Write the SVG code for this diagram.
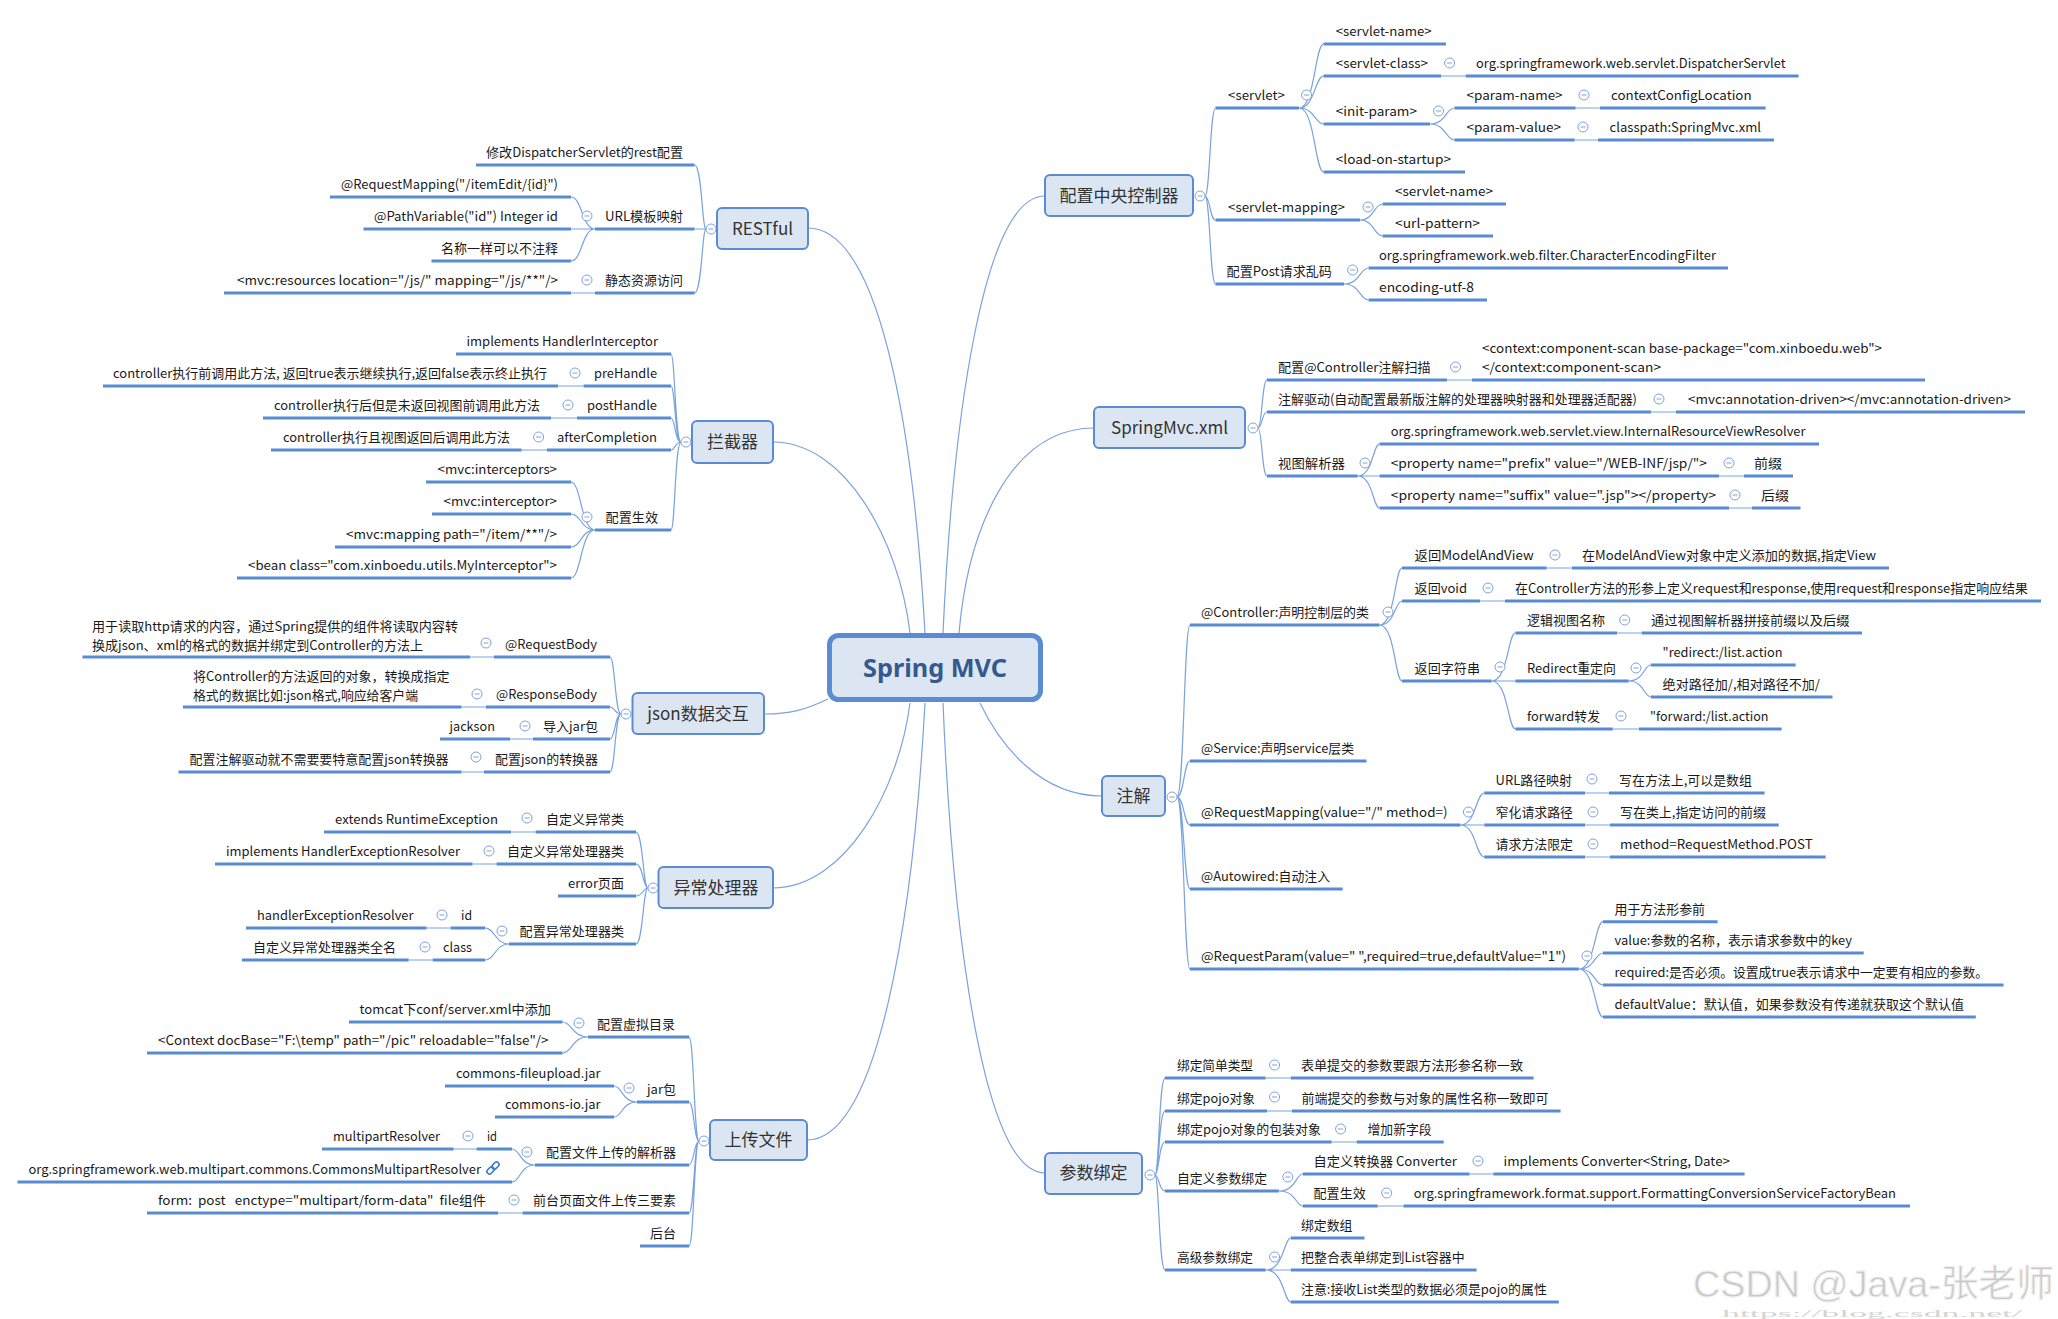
<svg xmlns="http://www.w3.org/2000/svg" xmlns:xlink="http://www.w3.org/1999/xlink" width="2058" height="1319" viewBox="0 0 2058 1319">
<style>
.u{fill:none;stroke:#588bd2;stroke-width:3}
.c{fill:none;stroke:#79a3dd;stroke-width:1.2}
.t{font-family:"Noto Sans CJK SC","Noto Sans",sans-serif;font-size:13px;fill:#1a1a1a}
.b{fill:#dce6f2;stroke:#5b8bd2;stroke-width:2}
.h{font-family:"Noto Sans CJK SC","Noto Sans",sans-serif;font-size:17px;fill:#333;text-anchor:middle}
</style>
<defs>
<g id="m"><circle r="5" fill="#fff" stroke="#7ea3d8" stroke-width="1"/><path d="M-2.5 0H2.5" stroke="#7ea3d8" stroke-width="1"/></g>
</defs>
<rect width="2058" height="1319" fill="#fff"/>

<g id="connectors">
<path class="c" d="M925 633C913 420 878 228 808 228"/>
<path class="c" d="M910 633C899 540 845 442 773 442"/>
<path class="c" d="M828 699C805 710 790 714 764 714"/>
<path class="c" d="M910 703C899 790 845 888 773 888"/>
<path class="c" d="M925 703C913 920 878 1140 807 1140"/>
<path class="c" d="M943 633C953 415 984 196 1045 196"/>
<path class="c" d="M959 633C968 530 1010 428 1094 428"/>
<path class="c" d="M980 703C1000 745 1040 796 1102 796"/>
<path class="c" d="M943 703C953 940 984 1173 1045 1173"/>

<path class="c" d="M706 229C702 229 702 165 694.5 165M706 229H694.5M706 229C702 229 702 293 694.5 293"/>
<path class="c" d="M595 229C582 229 582 197 571 197M595 229H571M595 229C582 229 582 261 571 261M595 293H571"/>

<path class="c" d="M681 442C675 442 675 354 671 354M681 442C675 442 675 386 671 386M681 442C675 442 675 418 671 418M681 442C675 442 675 450 671 450M681 442C675 442 675 530 671 530"/>
<path class="c" d="M583.6 386H558M577 418H551M547 450H521.6"/>
<path class="c" d="M595 530C581 530 581 482 571 482M595 530C581 530 581 514 571 514M595 530C581 530 581 547 571 547M595 530C581 530 581 578 571 578"/>

<path class="c" d="M621 714C615 714 615 657 610 657M621 714C615 714 615 707 610 707M621 714C615 714 615 739 610 739M621 714C615 714 615 772 610 772"/>
<path class="c" d="M494 657H470M486 707H461.5M533 739H510M484 772H461.5"/>

<path class="c" d="M648 888C643 888 643 832 636 832M648 888C643 888 643 864 636 864M648 888C643 888 643 896 636 896M648 888C643 888 643 944 636 944"/>
<path class="c" d="M535.6 832H511M496.6 864H472.5"/>
<path class="c" d="M509 944C495 944 495 928 485 928M509 944C495 944 495 960 485 960M450.7 928H426.5M432.7 960H408.6"/>

<path class="c" d="M699 1141C694 1141 694 1037 689 1037M699 1141C694 1141 694 1102 689 1102M699 1141C694 1141 694 1165 689 1165M699 1141C694 1141 694 1213 689 1213M699 1141C694 1141 694 1246 689 1246"/>
<path class="c" d="M588 1037C572 1037 572 1022 562.4 1022M588 1037C572 1037 572 1053 562.4 1053"/>
<path class="c" d="M637 1102C622 1102 622 1086 614 1086M637 1102C622 1102 622 1117 614 1117"/>
<path class="c" d="M535 1165C520 1165 520 1149 512 1149M535 1165C520 1165 520 1182 512 1182M476.6 1149H453.6M522.5 1213H498"/>

<path class="c" d="M1205 196C1210 196 1210 108 1215.5 108M1205 196C1210 196 1210 220 1215.5 220M1205 196C1210 196 1210 284 1215.5 284"/>
<path class="c" d="M1299 108C1315 108 1315 44 1323.6 44M1299 108C1315 108 1315 76 1323.6 76M1299 108C1315 108 1315 124 1323.6 124M1299 108C1315 108 1315 172 1323.6 172"/>
<path class="c" d="M1441 76H1465.6M1430 124C1446 124 1446 108 1454.5 108M1430 124C1446 124 1446 140 1454.5 140M1575.6 108H1600M1574.7 140H1598"/>
<path class="c" d="M1360 220C1374 220 1374 204 1382.7 204M1360 220C1374 220 1374 236 1382.7 236"/>
<path class="c" d="M1344 284C1360 284 1360 268 1368.6 268M1344 284C1360 284 1360 300 1368.6 300"/>

<path class="c" d="M1258 428C1262 428 1262 380 1267 380M1258 428C1262 428 1262 412 1267 412M1258 428C1262 428 1262 476 1267 476"/>
<path class="c" d="M1447 380H1472M1651 412H1676"/>
<path class="c" d="M1357.6 476C1373 476 1373 444 1379.5 444M1357.6 476H1379.5M1357.6 476C1373 476 1373 508 1379.5 508M1719 476H1744M1729 508H1752"/>

<path class="c" d="M1177 797C1184 797 1184 625 1190 625M1177 797C1184 797 1184 761 1190 761M1177 797C1184 797 1184 825 1190 825M1177 797C1184 797 1184 889 1190 889M1177 797C1184 797 1184 969 1190 969"/>
<path class="c" d="M1379.5 625C1395 625 1395 568 1402 568M1379.5 625C1395 625 1395 601 1402 601M1379.5 625C1395 625 1395 681 1402 681"/>
<path class="c" d="M1546.6 568H1572M1480 601H1505"/>
<path class="c" d="M1491.6 681C1508 681 1508 633 1515.4 633M1491.6 681H1515.4M1491.6 681C1508 681 1508 729 1515.4 729M1617 633H1641.7M1612.8 729H1639"/>
<path class="c" d="M1628.7 681C1644 681 1644 665 1651 665M1628.7 681C1644 681 1644 697 1651 697"/>
<path class="c" d="M1460.5 825C1476 825 1476 793 1484.3 793M1460.5 825H1484.3M1460.5 825C1476 825 1476 857 1484.3 857M1585 793H1609M1585 825H1610M1585 857H1610"/>
<path class="c" d="M1578.8 969C1595 969 1595 921.7 1603 921.7M1578.8 969C1595 969 1595 953 1603 953M1578.8 969C1595 969 1595 985 1603 985M1578.8 969C1595 969 1595 1017 1603 1017"/>

<path class="c" d="M1155 1175C1159 1175 1159 1078 1165 1078M1155 1175C1159 1175 1159 1111 1165 1111M1155 1175C1159 1175 1159 1142 1165 1142M1155 1175C1159 1175 1159 1191 1165 1191M1155 1175C1159 1175 1159 1270 1165 1270"/>
<path class="c" d="M1265.6 1078H1290.8M1267 1111H1292M1331.6 1142H1356.7"/>
<path class="c" d="M1278.8 1191C1296 1191 1296 1174 1302.8 1174M1278.8 1191C1296 1191 1296 1206 1302.8 1206M1469.5 1174H1493.4M1377.7 1206H1403.5"/>
<path class="c" d="M1265.6 1270C1284 1270 1284 1238 1290.8 1238M1265.6 1270H1290.8M1265.6 1270C1284 1270 1284 1302 1290.8 1302"/>
</g>

<g id="n-center">
<rect x="829.5" y="635.5" width="211" height="64" rx="9" fill="#dce6f2" stroke="#5b8bd2" stroke-width="5"/>
<text x="863" y="677" textLength="144" lengthAdjust="spacingAndGlyphs" style="font-family:'Noto Sans','Noto Sans CJK SC',sans-serif;font-size:25px;font-weight:bold;fill:#35598f">Spring MVC</text>
</g>

<!-- RESTful -->
<g id="n-restful"><rect class="b" x="717" y="208" width="91" height="41" rx="5"/><text class="h" x="762.5" y="234.5">RESTful</text><use href="#m" x="711" y="229"/></g>
<g id="n-r1"><path class="u" d="M476 165H694.5"/><text class="t" x="486" y="157" textLength="197" lengthAdjust="spacingAndGlyphs">修改DispatcherServlet的rest配置</text></g>
<g id="n-r2"><path class="u" d="M595 229H694.5"/><text class="t" x="605" y="221" textLength="78" lengthAdjust="spacingAndGlyphs">URL模板映射</text><use href="#m" x="587" y="216"/></g>
<g id="n-r2a"><path class="u" d="M330 197H571"/><text class="t" x="341" y="189" textLength="217" lengthAdjust="spacingAndGlyphs">@RequestMapping("/itemEdit/{id}")</text></g>
<g id="n-r2b"><path class="u" d="M363.5 229H571"/><text class="t" x="374" y="221" textLength="184" lengthAdjust="spacingAndGlyphs">@PathVariable("id") Integer id</text></g>
<g id="n-r2c"><path class="u" d="M431.5 261H571"/><text class="t" x="441" y="253" textLength="117" lengthAdjust="spacingAndGlyphs">名称一样可以不注释</text></g>
<g id="n-r3"><path class="u" d="M595 293H694.5"/><text class="t" x="605" y="285" textLength="78" lengthAdjust="spacingAndGlyphs">静态资源访问</text><use href="#m" x="587" y="280"/></g>
<g id="n-r3a"><path class="u" d="M224 293H571"/><text class="t" x="237" y="285" textLength="321" lengthAdjust="spacingAndGlyphs">&lt;mvc:resources location="/js/" mapping="/js/**"/&gt;</text></g>

<!-- 拦截器 -->
<g id="n-interceptor"><rect class="b" x="692" y="421" width="81" height="42" rx="5"/><text class="h" x="732.5" y="448">拦截器</text><use href="#m" x="686" y="442"/></g>
<g id="n-i1"><path class="u" d="M456 354H671"/><text class="t" x="466.5" y="346" textLength="191.5" lengthAdjust="spacingAndGlyphs">implements HandlerInterceptor</text></g>
<g id="n-i2"><path class="u" d="M583.6 386H671"/><text class="t" x="594" y="378" textLength="63" lengthAdjust="spacingAndGlyphs">preHandle</text><use href="#m" x="575" y="373"/></g>
<g id="n-i2a"><path class="u" d="M103 386H558"/><text class="t" x="113" y="378" textLength="434" lengthAdjust="spacingAndGlyphs">controller执行前调用此方法, 返回true表示继续执行,返回false表示终止执行</text></g>
<g id="n-i3"><path class="u" d="M577 418H671"/><text class="t" x="587" y="410" textLength="70" lengthAdjust="spacingAndGlyphs">postHandle</text><use href="#m" x="568" y="405"/></g>
<g id="n-i3a"><path class="u" d="M263 418H551"/><text class="t" x="274" y="410" textLength="266" lengthAdjust="spacingAndGlyphs">controller执行后但是未返回视图前调用此方法</text></g>
<g id="n-i4"><path class="u" d="M547 450H671"/><text class="t" x="557" y="442" textLength="100" lengthAdjust="spacingAndGlyphs">afterCompletion</text><use href="#m" x="538.6" y="437"/></g>
<g id="n-i4a"><path class="u" d="M271 450H521.6"/><text class="t" x="283" y="442" textLength="227" lengthAdjust="spacingAndGlyphs">controller执行且视图返回后调用此方法</text></g>
<g id="n-i5"><path class="u" d="M595 530H671"/><text class="t" x="605.6" y="522" textLength="52.4" lengthAdjust="spacingAndGlyphs">配置生效</text><use href="#m" x="587" y="517"/></g>
<g id="n-i5a"><path class="u" d="M426 482H571"/><text class="t" x="437.6" y="474" textLength="119.4" lengthAdjust="spacingAndGlyphs">&lt;mvc:interceptors&gt;</text></g>
<g id="n-i5b"><path class="u" d="M432 514H571"/><text class="t" x="443.5" y="506" textLength="113.5" lengthAdjust="spacingAndGlyphs">&lt;mvc:interceptor&gt;</text></g>
<g id="n-i5c"><path class="u" d="M335 547H571"/><text class="t" x="346" y="539" textLength="211" lengthAdjust="spacingAndGlyphs">&lt;mvc:mapping path="/item/**"/&gt;</text></g>
<g id="n-i5d"><path class="u" d="M237 578H571"/><text class="t" x="248" y="570" textLength="309" lengthAdjust="spacingAndGlyphs">&lt;bean class="com.xinboedu.utils.MyInterceptor"&gt;</text></g>

<!-- json -->
<g id="n-json"><rect class="b" x="632.5" y="693" width="131.5" height="41" rx="5"/><text class="h" x="698" y="720">json数据交互</text><use href="#m" x="626" y="714"/></g>
<g id="n-j1"><path class="u" d="M494 657H610"/><text class="t" x="505" y="649" textLength="92" lengthAdjust="spacingAndGlyphs">@RequestBody</text><use href="#m" x="486" y="643"/></g>
<g id="n-j1a"><path class="u" d="M82.5 657H470"/><text class="t" x="92" y="630.5" textLength="366" lengthAdjust="spacingAndGlyphs">用于读取http请求的内容，通过Spring提供的组件将读取内容转</text><text class="t" x="92" y="649.5" textLength="331" lengthAdjust="spacingAndGlyphs">换成json、xml的格式的数据并绑定到Controller的方法上</text></g>
<g id="n-j2"><path class="u" d="M486 707H610"/><text class="t" x="496" y="699" textLength="101" lengthAdjust="spacingAndGlyphs">@ResponseBody</text><use href="#m" x="477" y="694"/></g>
<g id="n-j2a"><path class="u" d="M183 707H461.5"/><text class="t" x="193" y="681" textLength="256.5" lengthAdjust="spacingAndGlyphs">将Controller的方法返回的对象，转换成指定</text><text class="t" x="193" y="699.5" textLength="225" lengthAdjust="spacingAndGlyphs">格式的数据比如:json格式,响应给客户端</text></g>
<g id="n-j3"><path class="u" d="M533 739H610"/><text class="t" x="543" y="731" textLength="55" lengthAdjust="spacingAndGlyphs">导入jar包</text><use href="#m" x="525" y="726"/></g>
<g id="n-j3a"><path class="u" d="M440 739H510"/><text class="t" x="449.5" y="731" textLength="45.5" lengthAdjust="spacingAndGlyphs">jackson</text></g>
<g id="n-j4"><path class="u" d="M484 772H610"/><text class="t" x="495" y="764" textLength="103" lengthAdjust="spacingAndGlyphs">配置json的转换器</text><use href="#m" x="476" y="757"/></g>
<g id="n-j4a"><path class="u" d="M178.5 772H461.5"/><text class="t" x="189.6" y="764" textLength="259" lengthAdjust="spacingAndGlyphs">配置注解驱动就不需要要特意配置json转换器</text></g>

<!-- 异常处理器 -->
<g id="n-exception"><rect class="b" x="658.5" y="867" width="114.5" height="41" rx="5"/><text class="h" x="716" y="894">异常处理器</text><use href="#m" x="653" y="888"/></g>
<g id="n-e1"><path class="u" d="M535.6 832H636"/><text class="t" x="546" y="824" textLength="78" lengthAdjust="spacingAndGlyphs">自定义异常类</text><use href="#m" x="527" y="818"/></g>
<g id="n-e1a"><path class="u" d="M324 832H511"/><text class="t" x="335" y="824" textLength="163" lengthAdjust="spacingAndGlyphs">extends RuntimeException</text></g>
<g id="n-e2"><path class="u" d="M496.6 864H636"/><text class="t" x="507" y="856" textLength="117" lengthAdjust="spacingAndGlyphs">自定义异常处理器类</text><use href="#m" x="489" y="851"/></g>
<g id="n-e2a"><path class="u" d="M215 864H472.5"/><text class="t" x="226" y="856" textLength="234" lengthAdjust="spacingAndGlyphs">implements HandlerExceptionResolver</text></g>
<g id="n-e3"><path class="u" d="M558 896H636"/><text class="t" x="568" y="888" textLength="56" lengthAdjust="spacingAndGlyphs">error页面</text></g>
<g id="n-e4"><path class="u" d="M509 944H636"/><text class="t" x="519.6" y="936" textLength="104.4" lengthAdjust="spacingAndGlyphs">配置异常处理器类</text><use href="#m" x="502" y="931"/></g>
<g id="n-e4a"><path class="u" d="M450.7 928H485"/><text class="t" x="461" y="920" textLength="11" lengthAdjust="spacingAndGlyphs">id</text><use href="#m" x="442" y="915"/></g>
<g id="n-e4a1"><path class="u" d="M246 928H426.5"/><text class="t" x="257" y="920" textLength="156.5" lengthAdjust="spacingAndGlyphs">handlerExceptionResolver</text></g>
<g id="n-e4b"><path class="u" d="M432.7 960H485"/><text class="t" x="443" y="952" textLength="29" lengthAdjust="spacingAndGlyphs">class</text><use href="#m" x="425" y="947"/></g>
<g id="n-e4b1"><path class="u" d="M242 960H408.6"/><text class="t" x="253" y="952" textLength="143" lengthAdjust="spacingAndGlyphs">自定义异常处理器类全名</text></g>

<!-- 上传文件 -->
<g id="n-upload"><rect class="b" x="710" y="1120" width="97" height="40" rx="5"/><text class="h" x="758.5" y="1146">上传文件</text><use href="#m" x="704" y="1141"/></g>
<g id="n-u1"><path class="u" d="M588 1037H689"/><text class="t" x="597" y="1029" textLength="78" lengthAdjust="spacingAndGlyphs">配置虚拟目录</text><use href="#m" x="579" y="1023"/></g>
<g id="n-u1a"><path class="u" d="M349 1022H562.4"/><text class="t" x="359.5" y="1014" textLength="191.5" lengthAdjust="spacingAndGlyphs">tomcat下conf/server.xml中添加</text></g>
<g id="n-u1b"><path class="u" d="M147 1053H562.4"/><text class="t" x="158" y="1045" textLength="390.6" lengthAdjust="spacingAndGlyphs">&lt;Context docBase="F:\temp" path="/pic" reloadable="false"/&gt;</text></g>
<g id="n-u2"><path class="u" d="M637 1102H689"/><text class="t" x="647" y="1094" textLength="29" lengthAdjust="spacingAndGlyphs">jar包</text><use href="#m" x="629" y="1088"/></g>
<g id="n-u2a"><path class="u" d="M445 1086H614"/><text class="t" x="456" y="1078" textLength="144.5" lengthAdjust="spacingAndGlyphs">commons-fileupload.jar</text></g>
<g id="n-u2b"><path class="u" d="M495 1117H614"/><text class="t" x="505" y="1109" textLength="95.5" lengthAdjust="spacingAndGlyphs">commons-io.jar</text></g>
<g id="n-u3"><path class="u" d="M535 1165H689"/><text class="t" x="546" y="1157" textLength="130" lengthAdjust="spacingAndGlyphs">配置文件上传的解析器</text><use href="#m" x="527" y="1152"/></g>
<g id="n-u3a"><path class="u" d="M476.6 1149H512"/><text class="t" x="487" y="1141" textLength="10" lengthAdjust="spacingAndGlyphs">id</text><use href="#m" x="468" y="1136"/></g>
<g id="n-u3a1"><path class="u" d="M322 1149H453.6"/><text class="t" x="333" y="1141" textLength="107" lengthAdjust="spacingAndGlyphs">multipartResolver</text></g>
<g id="n-u3b"><path class="u" d="M17.4 1182H512"/><text class="t" x="28.5" y="1174" textLength="452.5" lengthAdjust="spacingAndGlyphs">org.springframework.web.multipart.commons.CommonsMultipartResolver</text>
<g transform="translate(493 1168) rotate(-45)" fill="none" stroke="#3d7bd6" stroke-width="1.6"><rect x="-7.5" y="-2.5" width="8" height="5" rx="2.5"/><rect x="-0.5" y="-2.5" width="8" height="5" rx="2.5"/></g></g>
<g id="n-u4"><path class="u" d="M522.5 1213H689"/><text class="t" x="533" y="1205" textLength="143" lengthAdjust="spacingAndGlyphs">前台页面文件上传三要素</text><use href="#m" x="514" y="1200"/></g>
<g id="n-u4a"><path class="u" d="M147 1213H498"/><text class="t" x="158" y="1205" textLength="328" lengthAdjust="spacingAndGlyphs" xml:space="preserve">form:  post   enctype="multipart/form-data"  file组件</text></g>
<g id="n-u5"><path class="u" d="M640 1246H689"/><text class="t" x="650" y="1238" textLength="26" lengthAdjust="spacingAndGlyphs">后台</text></g>

<!-- 配置中央控制器 -->
<g id="n-dispatcher"><rect class="b" x="1045" y="175" width="148" height="41" rx="5"/><text class="h" x="1119" y="202">配置中央控制器</text><use href="#m" x="1200" y="196"/></g>
<g id="n-c1"><path class="u" d="M1215.5 108H1299"/><text class="t" x="1228" y="100" textLength="57" lengthAdjust="spacingAndGlyphs">&lt;servlet&gt;</text><use href="#m" x="1306.6" y="95"/></g>
<g id="n-c1a"><path class="u" d="M1323.6 44H1446"/><text class="t" x="1335.7" y="36" textLength="96" lengthAdjust="spacingAndGlyphs">&lt;servlet-name&gt;</text></g>
<g id="n-c1b"><path class="u" d="M1323.6 76H1441"/><text class="t" x="1335.7" y="68" textLength="92.3" lengthAdjust="spacingAndGlyphs">&lt;servlet-class&gt;</text><use href="#m" x="1449.6" y="63"/></g>
<g id="n-c1b1"><path class="u" d="M1465.6 76H1798.6"/><text class="t" x="1476" y="68" textLength="309.5" lengthAdjust="spacingAndGlyphs">org.springframework.web.servlet.DispatcherServlet</text></g>
<g id="n-c1c"><path class="u" d="M1323.6 124H1430"/><text class="t" x="1335.7" y="116" textLength="81.3" lengthAdjust="spacingAndGlyphs">&lt;init-param&gt;</text><use href="#m" x="1438.5" y="111"/></g>
<g id="n-c1c1"><path class="u" d="M1454.5 108H1575.6"/><text class="t" x="1466.6" y="100" textLength="96" lengthAdjust="spacingAndGlyphs">&lt;param-name&gt;</text><use href="#m" x="1584" y="95"/></g>
<g id="n-c1c1a"><path class="u" d="M1600 108H1765.6"/><text class="t" x="1611" y="100" textLength="140.6" lengthAdjust="spacingAndGlyphs">contextConfigLocation</text></g>
<g id="n-c1c2"><path class="u" d="M1454.5 140H1574.7"/><text class="t" x="1466.6" y="132" textLength="94.4" lengthAdjust="spacingAndGlyphs">&lt;param-value&gt;</text><use href="#m" x="1583" y="127"/></g>
<g id="n-c1c2a"><path class="u" d="M1598 140H1774"/><text class="t" x="1609.6" y="132" textLength="151.4" lengthAdjust="spacingAndGlyphs">classpath:SpringMvc.xml</text></g>
<g id="n-c1d"><path class="u" d="M1323.6 172H1465"/><text class="t" x="1335.7" y="164" textLength="115.3" lengthAdjust="spacingAndGlyphs">&lt;load-on-startup&gt;</text></g>
<g id="n-c2"><path class="u" d="M1215.5 220H1360"/><text class="t" x="1228" y="212" textLength="117" lengthAdjust="spacingAndGlyphs">&lt;servlet-mapping&gt;</text><use href="#m" x="1368" y="207"/></g>
<g id="n-c2a"><path class="u" d="M1382.7 204H1506"/><text class="t" x="1395" y="196" textLength="98" lengthAdjust="spacingAndGlyphs">&lt;servlet-name&gt;</text></g>
<g id="n-c2b"><path class="u" d="M1382.7 236H1493"/><text class="t" x="1395" y="228" textLength="85" lengthAdjust="spacingAndGlyphs">&lt;url-pattern&gt;</text></g>
<g id="n-c3"><path class="u" d="M1215.5 284H1344"/><text class="t" x="1226.6" y="276" textLength="105.4" lengthAdjust="spacingAndGlyphs">配置Post请求乱码</text><use href="#m" x="1352.6" y="270"/></g>
<g id="n-c3a"><path class="u" d="M1368.6 268H1728"/><text class="t" x="1379" y="260" textLength="337" lengthAdjust="spacingAndGlyphs">org.springframework.web.filter.CharacterEncodingFilter</text></g>
<g id="n-c3b"><path class="u" d="M1368.6 300H1487"/><text class="t" x="1379" y="292" textLength="95" lengthAdjust="spacingAndGlyphs">encoding-utf-8</text></g>

<!-- SpringMvc.xml -->
<g id="n-springmvcxml"><rect class="b" x="1094" y="407" width="151" height="41" rx="5"/><text class="h" x="1169.5" y="434">SpringMvc.xml</text><use href="#m" x="1253" y="428"/></g>
<g id="n-s1"><path class="u" d="M1267 380H1447"/><text class="t" x="1278" y="372" textLength="152.6" lengthAdjust="spacingAndGlyphs">配置@Controller注解扫描</text><use href="#m" x="1455.5" y="367"/></g>
<g id="n-s1a"><path class="u" d="M1472 380H1925"/><text class="t" x="1482" y="352.5" textLength="400" lengthAdjust="spacingAndGlyphs">&lt;context:component-scan base-package="com.xinboedu.web"&gt;</text><text class="t" x="1482" y="371.5" textLength="179" lengthAdjust="spacingAndGlyphs">&lt;/context:component-scan&gt;</text></g>
<g id="n-s2"><path class="u" d="M1267 412H1651"/><text class="t" x="1278" y="404" textLength="359" lengthAdjust="spacingAndGlyphs">注解驱动(自动配置最新版注解的处理器映射器和处理器适配器)</text><use href="#m" x="1659" y="399"/></g>
<g id="n-s2a"><path class="u" d="M1676 412H2025"/><text class="t" x="1688" y="404" textLength="323" lengthAdjust="spacingAndGlyphs">&lt;mvc:annotation-driven&gt;&lt;/mvc:annotation-driven&gt;</text></g>
<g id="n-s3"><path class="u" d="M1267 476H1357.6"/><text class="t" x="1278" y="468" textLength="67" lengthAdjust="spacingAndGlyphs">视图解析器</text><use href="#m" x="1365" y="463"/></g>
<g id="n-s3a"><path class="u" d="M1379.5 444H1819"/><text class="t" x="1390.7" y="436" textLength="414.8" lengthAdjust="spacingAndGlyphs">org.springframework.web.servlet.view.InternalResourceViewResolver</text></g>
<g id="n-s3b"><path class="u" d="M1379.5 476H1719"/><text class="t" x="1390.7" y="468" textLength="316.3" lengthAdjust="spacingAndGlyphs">&lt;property name="prefix" value="/WEB-INF/jsp/"&gt;</text><use href="#m" x="1729" y="463"/></g>
<g id="n-s3b1"><path class="u" d="M1744 476H1793"/><text class="t" x="1754" y="468" textLength="28" lengthAdjust="spacingAndGlyphs">前缀</text></g>
<g id="n-s3c"><path class="u" d="M1379.5 508H1729"/><text class="t" x="1390.7" y="500" textLength="325.3" lengthAdjust="spacingAndGlyphs">&lt;property name="suffix" value=".jsp"&gt;&lt;/property&gt;</text><use href="#m" x="1735" y="495"/></g>
<g id="n-s3c1"><path class="u" d="M1752 508H1800.5"/><text class="t" x="1761" y="500" textLength="28" lengthAdjust="spacingAndGlyphs">后缀</text></g>

<!-- 注解 -->
<g id="n-annotation"><rect class="b" x="1102" y="776" width="63" height="40" rx="5"/><text class="h" x="1133.5" y="802">注解</text><use href="#m" x="1172" y="797"/></g>
<g id="n-a1"><path class="u" d="M1190 625H1379.5"/><text class="t" x="1201" y="617" textLength="168" lengthAdjust="spacingAndGlyphs">@Controller:声明控制层的类</text><use href="#m" x="1388" y="612"/></g>
<g id="n-a1a"><path class="u" d="M1402 568H1546.6"/><text class="t" x="1414.6" y="560" textLength="119" lengthAdjust="spacingAndGlyphs">返回ModelAndView</text><use href="#m" x="1555" y="555"/></g>
<g id="n-a1a1"><path class="u" d="M1572 568H1889"/><text class="t" x="1582" y="560" textLength="294" lengthAdjust="spacingAndGlyphs">在ModelAndView对象中定义添加的数据,指定View</text></g>
<g id="n-a1b"><path class="u" d="M1402 601H1480"/><text class="t" x="1414.6" y="593" textLength="52.4" lengthAdjust="spacingAndGlyphs">返回void</text><use href="#m" x="1488" y="588"/></g>
<g id="n-a1b1"><path class="u" d="M1505 601H2041"/><text class="t" x="1515" y="593" textLength="513" lengthAdjust="spacingAndGlyphs">在Controller方法的形参上定义request和response,使用request和response指定响应结果</text></g>
<g id="n-a1c"><path class="u" d="M1402 681H1491.6"/><text class="t" x="1414.6" y="673" textLength="65.4" lengthAdjust="spacingAndGlyphs">返回字符串</text><use href="#m" x="1500" y="667"/></g>
<g id="n-a1c1"><path class="u" d="M1515.4 633H1617"/><text class="t" x="1527" y="625" textLength="78" lengthAdjust="spacingAndGlyphs">逻辑视图名称</text><use href="#m" x="1624.7" y="620"/></g>
<g id="n-a1c1a"><path class="u" d="M1641.7 633H1862"/><text class="t" x="1651" y="625" textLength="198.5" lengthAdjust="spacingAndGlyphs">通过视图解析器拼接前缀以及后缀</text></g>
<g id="n-a1c2"><path class="u" d="M1515.4 681H1628.7"/><text class="t" x="1527" y="673" textLength="89" lengthAdjust="spacingAndGlyphs">Redirect重定向</text><use href="#m" x="1636" y="668"/></g>
<g id="n-a1c2a"><path class="u" d="M1651 665H1795.7"/><text class="t" x="1662.6" y="657" textLength="120" lengthAdjust="spacingAndGlyphs">"redirect:/list.action</text></g>
<g id="n-a1c2b"><path class="u" d="M1651 697H1832.5"/><text class="t" x="1662.6" y="689" textLength="157.4" lengthAdjust="spacingAndGlyphs">绝对路径加/,相对路径不加/</text></g>
<g id="n-a1c3"><path class="u" d="M1515.4 729H1612.8"/><text class="t" x="1527" y="721" textLength="73" lengthAdjust="spacingAndGlyphs">forward转发</text><use href="#m" x="1621" y="716"/></g>
<g id="n-a1c3a"><path class="u" d="M1639 729H1781.6"/><text class="t" x="1650" y="721" textLength="118.5" lengthAdjust="spacingAndGlyphs">"forward:/list.action</text></g>
<g id="n-a2"><path class="u" d="M1190 761H1366.5"/><text class="t" x="1201" y="753" textLength="153" lengthAdjust="spacingAndGlyphs">@Service:声明service层类</text></g>
<g id="n-a3"><path class="u" d="M1190 825H1460.5"/><text class="t" x="1201" y="817" textLength="246.5" lengthAdjust="spacingAndGlyphs">@RequestMapping(value="/" method=)</text><use href="#m" x="1468.4" y="812"/></g>
<g id="n-a3a"><path class="u" d="M1484.3 793H1585"/><text class="t" x="1495.6" y="785" textLength="76.4" lengthAdjust="spacingAndGlyphs">URL路径映射</text><use href="#m" x="1592" y="779"/></g>
<g id="n-a3a1"><path class="u" d="M1609 793H1764.6"/><text class="t" x="1619" y="785" textLength="133" lengthAdjust="spacingAndGlyphs">写在方法上,可以是数组</text></g>
<g id="n-a3b"><path class="u" d="M1484.3 825H1585"/><text class="t" x="1495.6" y="817" textLength="77.4" lengthAdjust="spacingAndGlyphs">窄化请求路径</text><use href="#m" x="1593" y="812"/></g>
<g id="n-a3b1"><path class="u" d="M1610 825H1778.7"/><text class="t" x="1620" y="817" textLength="146" lengthAdjust="spacingAndGlyphs">写在类上,指定访问的前缀</text></g>
<g id="n-a3c"><path class="u" d="M1484.3 857H1585"/><text class="t" x="1495.6" y="849" textLength="77.4" lengthAdjust="spacingAndGlyphs">请求方法限定</text><use href="#m" x="1593" y="844"/></g>
<g id="n-a3c1"><path class="u" d="M1610 857H1825.7"/><text class="t" x="1620" y="849" textLength="192.7" lengthAdjust="spacingAndGlyphs">method=RequestMethod.POST</text></g>
<g id="n-a4"><path class="u" d="M1190 889H1342.7"/><text class="t" x="1201" y="881" textLength="129" lengthAdjust="spacingAndGlyphs">@Autowired:自动注入</text></g>
<g id="n-a5"><path class="u" d="M1190 969H1578.8"/><text class="t" x="1201" y="961" textLength="365" lengthAdjust="spacingAndGlyphs">@RequestParam(value=" ",required=true,defaultValue="1")</text><use href="#m" x="1587" y="956"/></g>
<g id="n-a5a"><path class="u" d="M1603 921.7H1717.6"/><text class="t" x="1614.5" y="913.7" textLength="90.5" lengthAdjust="spacingAndGlyphs">用于方法形参前</text></g>
<g id="n-a5b"><path class="u" d="M1603 953H1863.7"/><text class="t" x="1614.5" y="945" textLength="237.5" lengthAdjust="spacingAndGlyphs">value:参数的名称，表示请求参数中的key</text></g>
<g id="n-a5c"><path class="u" d="M1603 985H2003.5"/><text class="t" x="1614.5" y="977" textLength="373.5" lengthAdjust="spacingAndGlyphs">required:是否必须。设置成true表示请求中一定要有相应的参数。</text></g>
<g id="n-a5d"><path class="u" d="M1603 1017H1975.8"/><text class="t" x="1614.5" y="1009" textLength="349.5" lengthAdjust="spacingAndGlyphs">defaultValue：默认值，如果参数没有传递就获取这个默认值</text></g>

<!-- 参数绑定 -->
<g id="n-binding"><rect class="b" x="1045" y="1153" width="97" height="41" rx="5"/><text class="h" x="1093.5" y="1179">参数绑定</text><use href="#m" x="1150" y="1175"/></g>
<g id="n-p1"><path class="u" d="M1165 1078H1265.6"/><text class="t" x="1177" y="1070" textLength="76" lengthAdjust="spacingAndGlyphs">绑定简单类型</text><use href="#m" x="1274.6" y="1065"/></g>
<g id="n-p1a"><path class="u" d="M1290.8 1078H1533.6"/><text class="t" x="1301" y="1070" textLength="222" lengthAdjust="spacingAndGlyphs">表单提交的参数要跟方法形参名称一致</text></g>
<g id="n-p2"><path class="u" d="M1165 1111H1267"/><text class="t" x="1177" y="1103" textLength="78" lengthAdjust="spacingAndGlyphs">绑定pojo对象</text><use href="#m" x="1274.6" y="1097"/></g>
<g id="n-p2a"><path class="u" d="M1292 1111H1560.6"/><text class="t" x="1301.6" y="1103" textLength="247" lengthAdjust="spacingAndGlyphs">前端提交的参数与对象的属性名称一致即可</text></g>
<g id="n-p3"><path class="u" d="M1165 1142H1331.6"/><text class="t" x="1177" y="1134" textLength="144" lengthAdjust="spacingAndGlyphs">绑定pojo对象的包装对象</text><use href="#m" x="1340.6" y="1129"/></g>
<g id="n-p3a"><path class="u" d="M1356.7 1142H1443.7"/><text class="t" x="1367.5" y="1134" textLength="64.2" lengthAdjust="spacingAndGlyphs">增加新字段</text></g>
<g id="n-p4"><path class="u" d="M1165 1191H1278.8"/><text class="t" x="1177" y="1183" textLength="90" lengthAdjust="spacingAndGlyphs">自定义参数绑定</text><use href="#m" x="1287.8" y="1177"/></g>
<g id="n-p4a"><path class="u" d="M1302.8 1174H1469.5"/><text class="t" x="1313.6" y="1166" textLength="143.4" lengthAdjust="spacingAndGlyphs">自定义转换器 Converter</text><use href="#m" x="1478" y="1161"/></g>
<g id="n-p4a1"><path class="u" d="M1493.4 1174H1744.6"/><text class="t" x="1503.6" y="1166" textLength="226.4" lengthAdjust="spacingAndGlyphs">implements Converter&lt;String, Date&gt;</text></g>
<g id="n-p4b"><path class="u" d="M1302.8 1206H1377.7"/><text class="t" x="1313.6" y="1198" textLength="52.1" lengthAdjust="spacingAndGlyphs">配置生效</text><use href="#m" x="1386.7" y="1193"/></g>
<g id="n-p4b1"><path class="u" d="M1403.5 1206H1910"/><text class="t" x="1413.7" y="1198" textLength="482.3" lengthAdjust="spacingAndGlyphs">org.springframework.format.support.FormattingConversionServiceFactoryBean</text></g>
<g id="n-p5"><path class="u" d="M1165 1270H1265.6"/><text class="t" x="1177" y="1262" textLength="76" lengthAdjust="spacingAndGlyphs">高级参数绑定</text><use href="#m" x="1274.6" y="1257"/></g>
<g id="n-p5a"><path class="u" d="M1290.8 1238H1364.5"/><text class="t" x="1301" y="1230" textLength="51.5" lengthAdjust="spacingAndGlyphs">绑定数组</text></g>
<g id="n-p5b"><path class="u" d="M1290.8 1270H1476.6"/><text class="t" x="1301" y="1262" textLength="163.6" lengthAdjust="spacingAndGlyphs">把整合表单绑定到List容器中</text></g>
<g id="n-p5c"><path class="u" d="M1290.8 1302H1558.8"/><text class="t" x="1301" y="1294" textLength="245.8" lengthAdjust="spacingAndGlyphs">注意:接收List类型的数据必须是pojo的属性</text></g>

<g id="watermark">
<text x="1693" y="1297" textLength="361" lengthAdjust="spacingAndGlyphs" style="font-family:'Liberation Sans','Noto Sans CJK SC',sans-serif;font-size:37px;fill:#c8c8c8;stroke:#efefef;stroke-width:1">CSDN @Java-张老师</text>
<text x="1722" y="1317" textLength="300" lengthAdjust="spacingAndGlyphs" style="font-family:'Liberation Serif',serif;font-size:11px;fill:#d4d4d4">https://blog.csdn.net/</text>
</g>
</svg>
